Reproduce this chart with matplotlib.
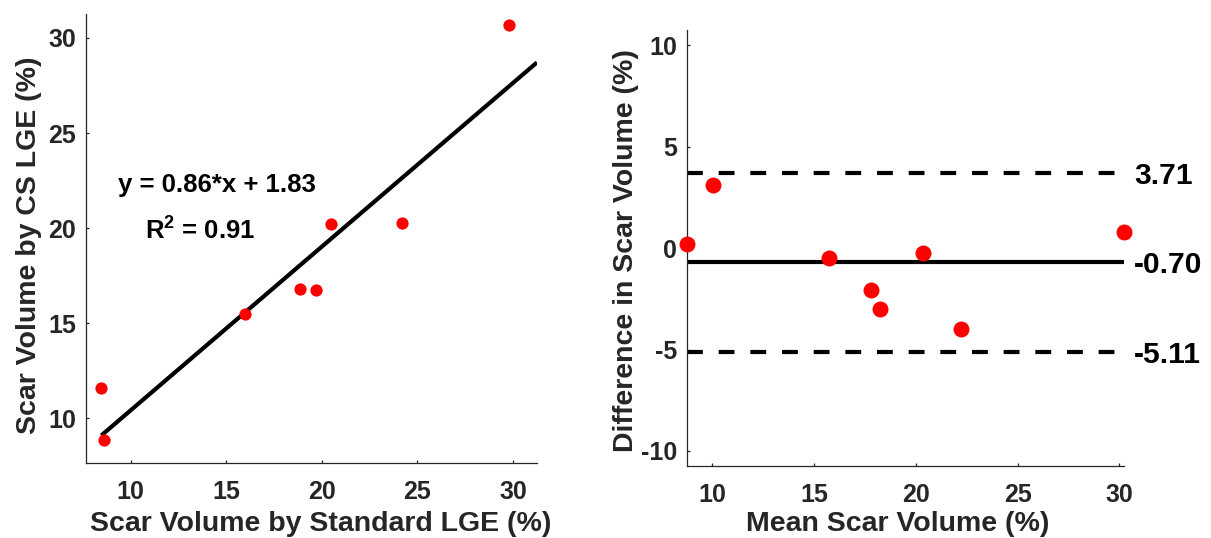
import matplotlib
matplotlib.use("Agg")
import matplotlib.pyplot as plt
import matplotlib.transforms as mtransforms
import numpy as np

# ---- data ----
std_lge = [8.46, 8.60, 15.97, 18.84, 19.72, 20.48, 24.19, 29.80]
cs_lge = [11.61, 8.87, 15.47, 16.78, 16.73, 20.21, 20.26, 30.66]
fit_slope = 0.86
fit_intercept = 1.83
r_squared = 0.91

ba_mean = [10.03, 8.75, 15.74, 17.81, 18.25, 20.36, 22.24, 30.23]
ba_diff = [3.12, 0.21, -0.50, -2.05, -3.01, -0.25, -3.97, 0.81]
bias = -0.70
loa_upper = 3.71
loa_lower = -5.11

left_ticks = [10, 15, 20, 25, 30]
right_yticks = [-10, -5, 0, 5, 10]

# ---- style ----
plt.rcParams['font.family'] = ['Liberation Sans', 'DejaVu Sans']
plt.rcParams['font.weight'] = 'bold'
plt.rcParams['axes.unicode_minus'] = False
plt.rcParams['mathtext.fontset'] = 'custom'
plt.rcParams['mathtext.rm'] = 'Liberation Sans:bold'
plt.rcParams['mathtext.bf'] = 'Liberation Sans:bold'
plt.rcParams['mathtext.it'] = 'Liberation Sans:bold'

AX_COL = '#262626'
TICK_FS = 18
LABEL_FS = 20.5

fig = plt.figure(figsize=(12.11, 5.38), dpi=100)
ax1 = fig.add_axes([0.0710, 0.1394, 0.3724, 0.8346])
ax2 = fig.add_axes([0.5673, 0.1338, 0.3609, 0.8104])

for ax in (ax1, ax2):
    for s in ('top', 'right'):
        ax.spines[s].set_visible(False)
    for s in ('left', 'bottom'):
        ax.spines[s].set_color(AX_COL)
        ax.spines[s].set_linewidth(0.9)
    ax.tick_params(direction='in', length=2.5, width=0.9, color=AX_COL,
                   labelsize=TICK_FS, labelcolor=AX_COL)
    ax.tick_params(axis='x', pad=12)
    ax.tick_params(axis='y', pad=7)

# ---- left: regression ----
lim1 = (7.66, 31.26)
ax1.set_xlim(*lim1)
ax1.set_ylim(*lim1)
xs = np.array([min(std_lge), lim1[1]])
ax1.plot(xs, fit_slope * xs + fit_intercept, color='black', lw=3.0,
         solid_capstyle='butt', zorder=2)
ax1.plot(std_lge, cs_lge, 'o', color='red', markersize=8.8, markeredgewidth=0,
         zorder=3, clip_on=False)
ax1.set_xticks(left_ticks)
ax1.set_yticks(left_ticks)
ax1.text(9.35, 21.92, f'y = {fit_slope:.2f}*x + {fit_intercept:.2f}',
         fontsize=18.5, fontweight='bold', color='black', va='baseline', ha='left')
ax1.text(10.75, 19.38, r'R$^{2}$' + f' = {r_squared:.2f}',
         fontsize=18.5, fontweight='bold', color='black', va='baseline', ha='left')
ax1.set_xlabel('Scar Volume by Standard LGE (%)', fontsize=LABEL_FS,
               fontweight='bold', color=AX_COL)
ax1.set_ylabel('Scar Volume by CS LGE (%)', fontsize=LABEL_FS,
               fontweight='bold', color=AX_COL)
ax1.xaxis.set_label_coords(0.52, -0.107)
ax1.yaxis.set_label_coords(-0.098, 0.486)

# ---- right: Bland-Altman ----
ax2.set_xlim(min(ba_mean), max(ba_mean))
ax2.set_ylim(-10.74, 10.74)
ax2.set_xticks(left_ticks)
ax2.set_yticks(right_yticks)
ax2.axhline(bias, color='black', lw=3.0, zorder=2)
ax2.axhline(loa_upper, color='black', lw=3.0, ls=(0, (3.8, 3.8)), zorder=2)
ax2.axhline(loa_lower, color='black', lw=3.0, ls=(0, (3.8, 3.8)), zorder=2)
ax2.plot(ba_mean, ba_diff, 'o', color='red', markersize=11.5,
         markeredgewidth=0, zorder=3, clip_on=False)
trans = mtransforms.blended_transform_factory(ax2.transAxes, ax2.transData)
for val in (loa_upper, bias, loa_lower):
    ax2.annotate(f'{val:.2f}', xy=(1.0, val), xycoords=trans,
                 xytext=(7.2, -7.8), textcoords='offset points',
                 fontsize=21.6, fontweight='bold', color='black',
                 ha='left', va='baseline', annotation_clip=False)
ax2.set_xlabel('Mean Scar Volume (%)', fontsize=LABEL_FS,
               fontweight='bold', color=AX_COL)
ax2.set_ylabel('Difference in Scar Volume (%)', fontsize=LABEL_FS,
               fontweight='bold', color=AX_COL)
ax2.xaxis.set_label_coords(0.483, -0.103)
ax2.yaxis.set_label_coords(-0.11, 0.494)

fig.savefig('out.png', dpi=100)
